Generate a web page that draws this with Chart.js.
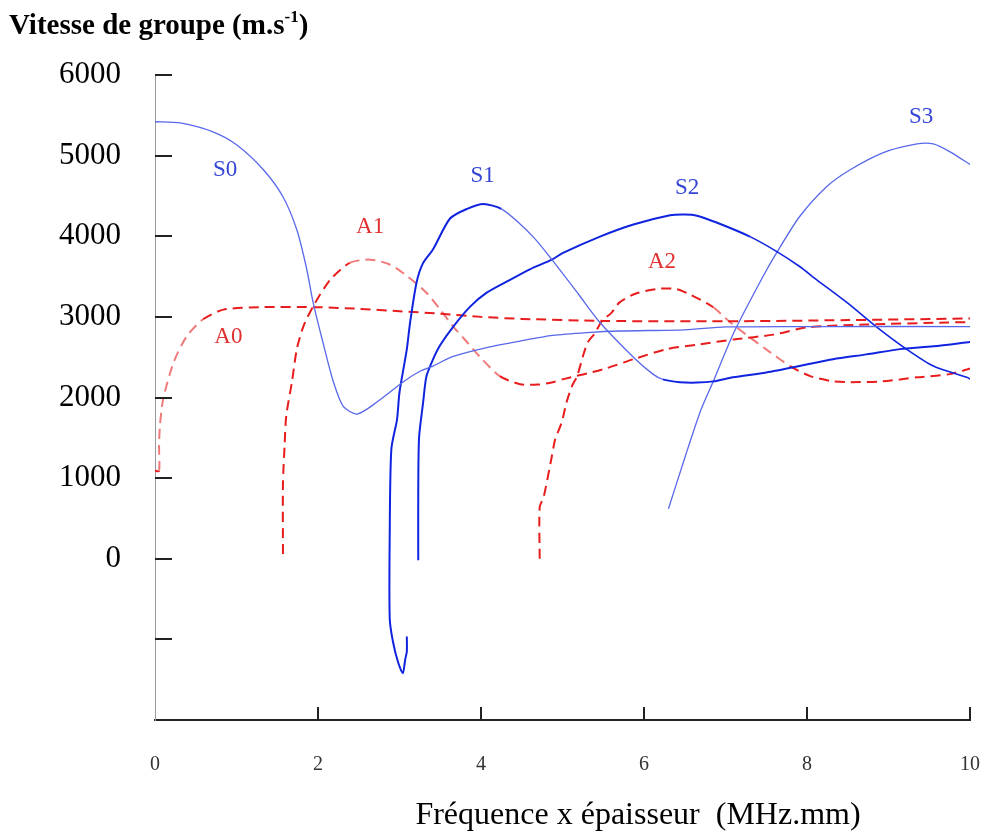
<!DOCTYPE html>
<html lang="fr">
<head>
<meta charset="UTF-8">
<title>Vitesse de groupe</title>
<script src="https://cdn.jsdelivr.net/npm/chart.js"></script>
<style>
  body { margin: 0; background: #fff; }
  #wrap { width: 986px; height: 836px; }
</style>
</head>
<body>
<div id="wrap"><canvas id="chart"></canvas></div>
<script>
// axes
const xMin = 0, xMax = 10, xStep = 2;
const yMin = -2000, yMax = 6000, yStep = 1000;

// modes symetriques (S) et antisymetriques (A)
const s0X = [0, 0.31, 0.71, 1.0, 1.33, 1.57, 1.74, 1.86, 1.94, 2.06, 2.19, 2.31, 2.48, 2.72, 3.04, 3.25, 3.41, 3.66, 4.07, 4.48, 4.88, 5.3, 5.7, 6.5, 7.0, 8.0, 10];
const s0Y = [5420, 5405, 5295, 5135, 4825, 4490, 4080, 3600, 3180, 2685, 2190, 1890, 1795, 1940, 2190, 2325, 2390, 2510, 2620, 2700, 2770, 2805, 2825, 2840, 2875, 2880, 2880];

const s1X = [3.09, 3.09, 3.07, 3.04, 2.98, 2.92, 2.88, 2.88, 2.9, 2.97, 3.0, 3.09, 3.13, 3.21, 3.29, 3.41, 3.62, 3.83, 4.03, 4.25, 4.45, 4.66, 4.87, 5.19, 5.46, 5.87, 6.11, 6.23, 6.44, 6.65, 6.85, 7.09, 7.5, 7.91, 8.32, 8.73, 9.14, 9.55, 10];
const s1Y = [-965, -1150, -1250, -1420, -1275, -1030, -740, 300, 1360, 1730, 2065, 2600, 2930, 3430, 3670, 3835, 4220, 4340, 4400, 4340, 4180, 3970, 3710, 3290, 2930, 2500, 2290, 2225, 2190, 2185, 2200, 2250, 2310, 2390, 2475, 2535, 2600, 2635, 2690];

const s2X = [3.23, 3.23, 3.24, 3.29, 3.33, 3.41, 3.5, 3.66, 3.87, 4.07, 4.32, 4.6, 4.87, 5.0, 5.46, 5.87, 6.32, 6.5, 6.65, 6.89, 7.3, 7.63, 7.91, 8.12, 8.5, 8.86, 9.22, 9.55, 9.96, 10];
const s2Y = [-20, 800, 1500, 1940, 2260, 2470, 2650, 2880, 3130, 3300, 3440, 3590, 3710, 3790, 3995, 4145, 4260, 4270, 4255, 4170, 3995, 3810, 3625, 3460, 3170, 2870, 2600, 2390, 2250, 2230];

const s3X = [6.3, 6.5, 6.7, 6.85, 7.1, 7.46, 7.63, 7.91, 8.24, 8.53, 8.93, 9.35, 9.55, 9.75, 10];
const s3Y = [620, 1250, 1850, 2200, 2800, 3500, 3800, 4245, 4615, 4825, 5035, 5145, 5145, 5050, 4890];

const a0X = [0, 0.05, 0.05, 0.06, 0.1, 0.23, 0.39, 0.59, 0.84, 1.3, 2.0, 2.5, 3.0, 3.5, 4.0, 4.5, 5.5, 7.0, 8.5, 10];
const a0Y = [1090, 1090, 1400, 1645, 1980, 2440, 2760, 2970, 3090, 3120, 3120, 3100, 3070, 3040, 3000, 2975, 2950, 2945, 2960, 2980];

const a1X = [1.57, 1.57, 1.59, 1.61, 1.68, 1.74, 1.82, 1.94, 2.15, 2.39, 2.64, 2.88, 3.1, 3.33, 3.5, 3.66, 3.83, 3.99, 4.23, 4.48, 4.7, 4.88, 5.0, 5.5, 5.87, 6.28, 6.69, 7.1, 7.59, 8.0, 8.73, 9.72, 10];
const a1Y = [60, 950, 1400, 1770, 2190, 2600, 2880, 3130, 3460, 3670, 3710, 3650, 3500, 3300, 3090, 2880, 2685, 2500, 2265, 2165, 2160, 2190, 2225, 2350, 2475, 2600, 2660, 2720, 2780, 2870, 2905, 2930, 2935];

const a2X = [4.72, 4.72, 4.77, 4.87, 4.91, 4.99, 5.05, 5.12, 5.18, 5.25, 5.31, 5.4, 5.48, 5.6, 5.7, 5.9, 6.2, 6.4, 6.56, 6.85, 7.06, 7.3, 7.55, 7.79, 8.04, 8.32, 8.53, 8.93, 9.35, 9.75, 10];
const a2Y = [0, 640, 770, 1275, 1480, 1690, 1940, 2150, 2265, 2510, 2685, 2800, 2945, 3050, 3180, 3290, 3350, 3345, 3280, 3120, 2930, 2745, 2560, 2390, 2265, 2200, 2190, 2200, 2250, 2290, 2360];

// etiquettes des modes (coordonnees en donnees)
const modeNames = ['S0', 'A0', 'A1', 'S1', 'S2', 'A2', 'S3'];
const modeX = [0.86, 0.9, 2.64, 4.02, 6.53, 6.22, 9.4];
const modeY = [4825, 2746, 4120, 4750, 4600, 3686, 5480];

const blue = '#1024e0', lightBlue = '#5868ea';
const red = '#e81c1c', lightRed = '#f07a7a';

function pts(xs, ys) {
    return xs.map((x, i) => ({ x: x, y: ys[i] }));
}

function inRange(ctx, lo, hi) {
    return ctx.p0.parsed.x >= lo && ctx.p1.parsed.x <= hi;
}

const ticksPlugin = {
    id: 'ticksAndText',
    afterDraw(chart) {
        const { ctx, scales: { x, y } } = chart;
        ctx.save();
        ctx.strokeStyle = '#222';
        ctx.lineWidth = 2;
        y.ticks.forEach(t => {
            if (t.value === yMin) return;
            const py = Math.round(y.getPixelForValue(t.value));
            ctx.beginPath();
            ctx.moveTo(x.left, py);
            ctx.lineTo(x.left + 17, py);
            ctx.stroke();
        });
        x.ticks.forEach(t => {
            if (t.value === xMin) return;
            const px = Math.round(x.getPixelForValue(t.value));
            ctx.beginPath();
            ctx.moveTo(px, y.bottom);
            ctx.lineTo(px, y.bottom - 13);
            ctx.stroke();
        });

        // noms des modes
        ctx.font = '23px "Liberation Serif", serif';
        ctx.textAlign = 'center';
        ctx.textBaseline = 'middle';
        modeNames.forEach((name, i) => {
            ctx.fillStyle = name[0] === 'S' ? '#3444d4' : '#e03030';
            ctx.fillText(name, x.getPixelForValue(modeX[i]), y.getPixelForValue(modeY[i]));
        });

        // titre de l'axe vertical, avec exposant
        ctx.fillStyle = '#000';
        ctx.textAlign = 'left';
        ctx.textBaseline = 'alphabetic';
        ctx.font = 'bold 29px "Liberation Serif", serif';
        const part1 = 'Vitesse de groupe (m.s';
        let tx = 9;
        const base = 34;
        ctx.fillText(part1, tx, base);
        tx += ctx.measureText(part1).width;
        ctx.font = 'bold 17px "Liberation Serif", serif';
        ctx.fillText('-1', tx, base - 12);
        tx += ctx.measureText('-1').width;
        ctx.font = 'bold 29px "Liberation Serif", serif';
        ctx.fillText(')', tx, base);

        // titre de l'axe horizontal
        ctx.font = '32px "Liberation Serif", serif';
        ctx.textAlign = 'center';
        ctx.textBaseline = 'middle';
        ctx.fillText('Fréquence x épaisseur  (MHz.mm)', 638, 816);
        ctx.restore();
    }
};

new Chart(document.getElementById('chart'), {
    type: 'scatter',
    data: {
        datasets: [
            {
                label: 'S0', data: pts(s0X, s0Y),
                borderColor: lightBlue, borderWidth: 1.3
            },
            {
                label: 'S1', data: pts(s1X, s1Y),
                borderColor: blue, borderWidth: 2,
                segment: {
                    borderColor: c => inRange(c, 4.2, 6.4) ? lightBlue : undefined,
                    borderWidth: c => inRange(c, 4.2, 6.4) ? 1.3 : undefined
                }
            },
            {
                label: 'S2', data: pts(s2X, s2Y),
                borderColor: blue, borderWidth: 2,
                segment: {
                    borderWidth: c => inRange(c, 7.3, 10) ? 1.6 : undefined
                }
            },
            {
                label: 'S3', data: pts(s3X, s3Y),
                borderColor: lightBlue, borderWidth: 1.3
            },
            {
                label: 'A0', data: pts(a0X, a0Y),
                borderColor: red, borderWidth: 2, borderDash: [10, 6],
                segment: {
                    borderColor: c => inRange(c, 0.05, 0.7) ? lightRed : undefined
                }
            },
            {
                label: 'A1', data: pts(a1X, a1Y),
                borderColor: red, borderWidth: 2, borderDash: [10, 6],
                segment: {
                    borderColor: c => inRange(c, 2.3, 4.3) ? lightRed : undefined
                }
            },
            {
                label: 'A2', data: pts(a2X, a2Y),
                borderColor: red, borderWidth: 2, borderDash: [10, 6],
                segment: {
                    borderColor: c => inRange(c, 6.7, 8.0) ? lightRed : undefined
                }
            }
        ]
    },
    options: {
        responsive: true,
        maintainAspectRatio: false,
        animation: false,
        showLine: true,
        tension: 0.25,
        elements: { point: { radius: 0, hitRadius: 0 } },
        layout: { padding: { top: 75, right: 16, left: 0, bottom: 0 } },
        plugins: {
            legend: { display: false },
            tooltip: { enabled: false }
        },
        scales: {
            x: {
                type: 'linear', min: xMin, max: xMax,
                grid: { display: false, drawTicks: false },
                border: { display: true, color: '#222', width: 2 },
                ticks: {
                    stepSize: xStep, padding: 33, color: '#333',
                    font: { family: '"Liberation Serif", serif', size: 20 }
                },
                afterFit: s => {
                    s.height = 116;
                    s.paddingLeft = 0;
                    s.paddingRight = 0;
                }
            },
            y: {
                type: 'linear', min: yMin, max: yMax,
                grid: { display: false, drawTicks: false },
                border: { display: true, color: '#999', width: 1 },
                ticks: {
                    stepSize: yStep, padding: 34, color: '#000',
                    font: { family: '"Liberation Serif", serif', size: 31 },
                    callback: v => v < 0 ? '' : v
                },
                afterFit: s => { s.width = 155; }
            }
        }
    },
    plugins: [ticksPlugin]
});
</script>
</body>
</html>
